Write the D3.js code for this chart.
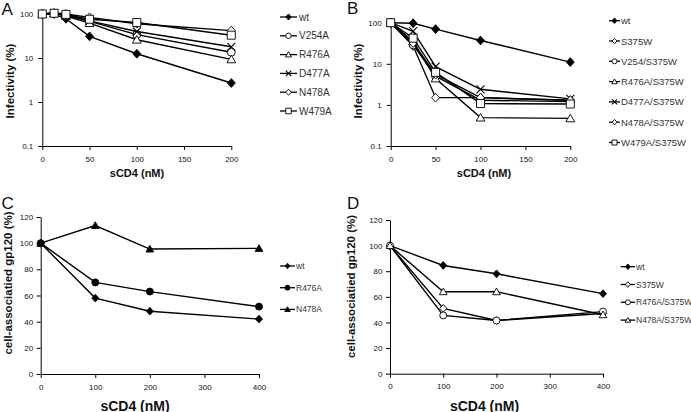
<!DOCTYPE html>
<html>
<head>
<meta charset="utf-8">
<script src="https://cdn.jsdelivr.net/npm/d3@7"></script>
<style>
  html, body { margin: 0; padding: 0; background: #fff; }
  svg { display: block; font-family: "Liberation Sans", Arial, sans-serif; }
</style>
</head>
<body>
<svg id="chart" width="691" height="412"></svg>
<script>
// ---------- DATA ----------
// Panel A: infectivity (%) vs sCD4 (nM), log scale
const dosesA = [0, 12.5, 25, 50, 100, 200];
const namesA = ["wt", "V254A", "R476A", "D477A", "N478A", "W479A"];
const shapesA = ["diamondFilled", "circle", "triangle", "x", "diamond", "square"];
const wtA    = [100, 100, 78, 31, 12.5, 2.7];
const v254A  = [100, 102, 94, 68, 34, 13.5];
const r476A  = [100, 104, 90, 62, 26, 9.3];
const d477A  = [100, 105, 96, 70, 40, 18];
const n478A  = [100, 106, 100, 84, 60, 42];
const w479A  = [100, 104, 98, 76, 64, 33];
const valuesA = [wtA, v254A, r476A, d477A, n478A, w479A];

// Panel B: infectivity (%) vs sCD4 (nM), log scale
const dosesB = [0, 25, 50, 100, 200];
const namesB = ["wt", "S375W", "V254/S375W", "R476A/S375W", "D477A/S375W", "N478A/S375W", "W479A/S375W"];
const shapesB = ["diamondFilled", "diamond", "circle", "triangle", "x", "diamond", "square"];
const wtB     = [100, 97, 70, 37, 11];
const s375wB  = [100, 27, 1.5, 1.5, 1.3];
const v254B   = [100, 29, 5, 1.3, 1.2];
const r476B   = [100, 35, 4.4, 0.49, 0.47];
const d477B   = [100, 62, 8.5, 2.4, 1.4];
const n478B   = [100, 32, 5.5, 1.5, 1.3];
const w479B   = [100, 42, 6.2, 1.08, 1.05];
const valuesB = [wtB, s375wB, v254B, r476B, d477B, n478B, w479B];

// Panel C: cell-associated gp120 (%) vs sCD4 (nM)
const dosesC = [0, 100, 200, 400];
const namesC = ["wt", "R476A", "N478A"];
const shapesC = ["diamondFilled", "circleFilled", "triangleFilled"];
const wtC    = [100, 58, 48, 42];
const r476C  = [100, 70, 63, 51.5];
const n478C  = [100, 113.5, 95.5, 96];
const valuesC = [wtC, r476C, n478C];

// Panel D
const dosesD = [0, 100, 200, 400];
const namesD = ["wt", "S375W", "R476A/S375W", "N478A/S375W"];
const shapesD = ["diamondFilled", "diamond", "circle", "triangle"];
const wtD    = [100, 84.5, 78, 62.5];
const s375wD = [100, 51, 41.5, 47];
const r476D  = [100, 45.5, 41.5, 48.5];
const n478D  = [100, 64, 64, 46];
const valuesD = [wtD, s375wD, r476D, n478D];

const ticksLog = [0.1, 1, 10, 100];
const ticksLinX200 = [0, 50, 100, 150, 200];
const ticksLinX400 = [0, 100, 200, 300, 400];
const ticksLinY = [0, 20, 40, 60, 80, 100, 120];

// ---------- DRAWING ----------
const svg = d3.select("#chart");

function shapePath(type, s) {
  const r = s / 2;
  const t = type.replace("Filled", "");
  if (t === "diamond") return `M0,${-r*1.1}L${r},0L0,${r*1.1}L${-r},0Z`;
  if (t === "square") return `M${-r},${-r}h${2*r}v${2*r}h${-2*r}Z`;
  if (t === "triangle") return `M0,${-r*1.05}L${r*1.1},${r*0.85}L${-r*1.1},${r*0.85}Z`;
  if (t === "circle") return `M${r},0A${r},${r} 0 1,1 ${-r},0A${r},${r} 0 1,1 ${r},0Z`;
  if (t === "x") return `M${-r},${-r}L${r},${r}M${-r},${r}L${r},${-r}`;
  return "";
}
function drawMarker(g, type, x, y, s) {
  const filled = type.endsWith("Filled");
  g.append("path")
    .attr("d", shapePath(type, s))
    .attr("transform", `translate(${x},${y})`)
    .attr("fill", type === "x" ? "none" : (filled ? "#000" : "#fff"))
    .attr("stroke", "#000")
    .attr("stroke-width", type === "x" ? 1.1 : 0.9);
}

function panel(cfg) {
  const g = svg.append("g");
  const x = d3.scaleLinear().domain(cfg.xDomain).range(cfg.xRange);
  const y = cfg.log
    ? d3.scaleLog().domain(cfg.yDomain).range(cfg.yRange)
    : d3.scaleLinear().domain(cfg.yDomain).range(cfg.yRange);

  const ax = g.append("g").attr("transform", `translate(0,${cfg.yRange[0]})`)
    .call(d3.axisBottom(x).tickValues(cfg.xTicks).tickSize(4).tickSizeOuter(0).tickPadding(6).tickFormat(d3.format("d")));
  const ay = g.append("g").attr("transform", `translate(${cfg.xRange[0]},0)`)
    .call(d3.axisLeft(y).tickValues(cfg.yTicks).tickSize(4).tickSizeOuter(0).tickPadding(cfg.yPad)
      .tickFormat(d => String(d)));
  [ax, ay].forEach(a => {
    a.selectAll("path,line").attr("stroke", "#000").attr("stroke-width", 1);
    a.selectAll("text").attr("font-size", 8).attr("fill", "#111")
      .attr("font-family", "Liberation Sans, Arial, sans-serif");
  });

  // axis titles
  g.append("text").attr("x", cfg.xTitle[0]).attr("y", cfg.xTitle[1])
    .attr("text-anchor", "middle").attr("dominant-baseline", "central")
    .attr("font-weight", "bold").attr("font-size", cfg.xTitleSize).attr("fill", "#111")
    .text("sCD4 (nM)");
  g.append("text")
    .attr("transform", `translate(${cfg.yTitle[0]},${cfg.yTitle[1]}) rotate(-90)`)
    .attr("text-anchor", "middle").attr("dominant-baseline", "central")
    .attr("font-weight", "bold").attr("font-size", 11.5).attr("fill", "#111")
    .text(cfg.yLabel);

  // panel letter
  g.append("text").attr("x", cfg.letterPos[0]).attr("y", cfg.letterPos[1])
    .attr("font-size", 17).attr("fill", "#111").text(cfg.letter);

  // series
  const line = d3.line().x(d => x(d[0])).y(d => y(d[1]));
  cfg.values.forEach((vals, i) => {
    const pts = cfg.doses.map((d, j) => [d, vals[j]]);
    g.append("path").attr("d", line(pts)).attr("fill", "none")
      .attr("stroke", "#000").attr("stroke-width", 1.4);
    pts.forEach(p => drawMarker(g, cfg.shapes[i], x(p[0]), y(p[1]), cfg.markerSize));
  });

  // legend
  cfg.names.forEach((n, i) => {
    const ly = cfg.legend.y0 + i * cfg.legend.step;
    g.append("line").attr("x1", cfg.legend.x1).attr("x2", cfg.legend.x2)
      .attr("y1", ly).attr("y2", ly).attr("stroke", "#000").attr("stroke-width", 1.3);
    drawMarker(g, cfg.shapes[i], (cfg.legend.x1 + cfg.legend.x2) / 2, ly, cfg.legend.ms);
    g.append("text").attr("x", cfg.legend.tx).attr("y", ly)
      .attr("dominant-baseline", "central").attr("font-size", cfg.legend.fs)
      .attr("fill", "#333").text(n);
  });
}

panel({
  letter: "A", letterPos: [1.5, 15],
  doses: dosesA, values: valuesA, names: namesA, shapes: shapesA,
  log: true, xDomain: [0, 200], xRange: [42.3, 231.3],
  yDomain: [0.1, 100], yRange: [146, 14],
  xTicks: ticksLinX200, yTicks: ticksLog, yPad: 5,
  xTitle: [137, 173], xTitleSize: 11, yTitle: [9.5, 81], yLabel: "Infectivity (%)",
  markerSize: 8,
  legend: { x1: 280, x2: 297, tx: 299, y0: 17, step: 18.8, fs: 10, ms: 5.5 }
});

panel({
  letter: "B", letterPos: [347, 14],
  doses: dosesB, values: valuesB, names: namesB, shapes: shapesB,
  log: true, xDomain: [0, 200], xRange: [390.7, 570.3],
  yDomain: [0.1, 100], yRange: [146, 22.7],
  xTicks: ticksLinX200, yTicks: ticksLog, yPad: 5,
  xTitle: [484, 173], xTitleSize: 11, yTitle: [358.3, 81], yLabel: "Infectivity (%)",
  markerSize: 8,
  legend: { x1: 609, x2: 620, tx: 621, y0: 20.7, step: 20.3, fs: 9.5, ms: 5 }
});

panel({
  letter: "C", letterPos: [1.5, 209],
  doses: dosesC, values: valuesC, names: namesC, shapes: shapesC,
  log: false, xDomain: [0, 400], xRange: [40.7, 259],
  yDomain: [0, 120], yRange: [374, 217],
  xTicks: ticksLinX400, yTicks: ticksLinY, yPad: 3.5,
  xTitle: [135, 405.5], xTitleSize: 14, yTitle: [7.7, 283], yLabel: "cell-associatied gp120 (%)",
  markerSize: 7,
  legend: { x1: 280, x2: 295, tx: 296, y0: 266, step: 21.7, fs: 8.5, ms: 5 }
});

panel({
  letter: "D", letterPos: [347, 209],
  doses: dosesD, values: valuesD, names: namesD, shapes: shapesD,
  log: false, xDomain: [0, 400], xRange: [390, 603],
  yDomain: [0, 120], yRange: [373.7, 220],
  xTicks: ticksLinX400, yTicks: ticksLinY, yPad: 3.5,
  xTitle: [484.5, 405.5], xTitleSize: 14, yTitle: [351, 286.5], yLabel: "cell-associatied gp120 (%)",
  markerSize: 7,
  legend: { x1: 620.7, x2: 635, tx: 636, y0: 266.7, step: 17.8, fs: 8.5, ms: 5 }
});
</script>
</body>
</html>
